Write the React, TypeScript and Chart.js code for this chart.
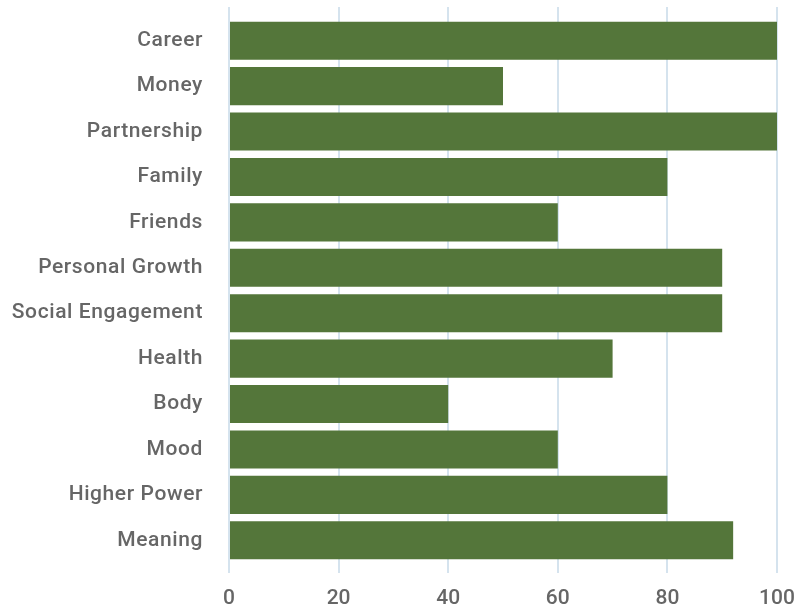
import React, { useEffect, useRef } from "react";
import { Chart, registerables } from "chart.js";

Chart.register(...registerables);

const categories = [
  "Career",
  "Money",
  "Partnership",
  "Family",
  "Friends",
  "Personal Growth",
  "Social Engagement",
  "Health",
  "Body",
  "Mood",
  "Higher Power",
  "Meaning",
];
const scores = [100, 50, 100, 80, 60, 90, 90, 70, 40, 60, 80, 92];
const xTickValues = [0, 20, 40, 60, 80, 100];

const BAR_COLOR = "#54763a";
const GRID_COLOR = "#d5e3ee";
const TEXT_COLOR = "#666666";

const gridTopExtension = {
  id: "gridTopExtension",
  beforeDraw(chart: any) {
    const ys = chart.scales.y;
    if (ys && !ys.__spaced) {
      const orig = ys.drawLabels;
      ys.drawLabels = function (area: any) {
        const ctx = this.ctx;
        ctx.save();
        ctx.letterSpacing = "0.6px";
        orig.call(this, area);
        ctx.restore();
      };
      ys.__spaced = true;
    }
  },
  beforeDatasetsDraw(chart: any) {
    const { ctx, chartArea, scales } = chart;
    const xs = scales.x;
    ctx.save();
    ctx.strokeStyle = GRID_COLOR;
    ctx.lineWidth = 2;
    xs.ticks.forEach((t: any) => {
      const px = Math.round(xs.getPixelForValue(t.value));
      ctx.beginPath();
      ctx.moveTo(px, chartArea.top - 11);
      ctx.lineTo(px, chartArea.top);
      ctx.stroke();
    });
    ctx.restore();
  },
};

export default function App() {
  const ref = useRef<HTMLCanvasElement>(null);
  useEffect(() => {
    document.body.style.margin = "0";
    const chart = new Chart(ref.current!, {
      type: "bar",
      data: {
        labels: categories,
        datasets: [
          {
            data: scores,
            backgroundColor: BAR_COLOR,
            categoryPercentage: 1,
            barPercentage: 0.84,
          },
        ],
      },
      plugins: [gridTopExtension],
      options: {
        indexAxis: "y",
        animation: false,
        responsive: false,
        maintainAspectRatio: false,
        layout: { padding: { top: 18, right: 24, bottom: 0, left: 0 } },
        plugins: { legend: { display: false }, tooltip: { enabled: false } },
        scales: {
          x: {
            min: 0,
            max: 100,
            afterBuildTicks: (s: any) => {
              s.ticks = xTickValues.map((v) => ({ value: v }));
            },
            afterFit: (s: any) => {
              s.height = 45;
              s.paddingLeft = 0;
              s.paddingRight = 0;
            },
            border: { display: false },
            grid: { color: GRID_COLOR, lineWidth: 2, tickLength: 10 },
            ticks: {
              color: TEXT_COLOR,
              padding: 13,
              font: { family: "Roboto", size: 21, weight: 500 },
            },
          },
          y: {
            afterFit: (s: any) => {
              s.width = 229;
              s.paddingTop = 0;
              s.paddingBottom = 0;
            },
            border: { display: false },
            grid: { display: false, drawTicks: false },
            ticks: {
              color: TEXT_COLOR,
              padding: 26,
              font: { family: "Roboto", size: 21, weight: 500 },
            },
          },
        },
      },
    });
    return () => chart.destroy();
  }, []);
  return (
    <div style={{ width: 801, height: 608 }}>
      <canvas ref={ref} width={801} height={608} />
    </div>
  );
}
